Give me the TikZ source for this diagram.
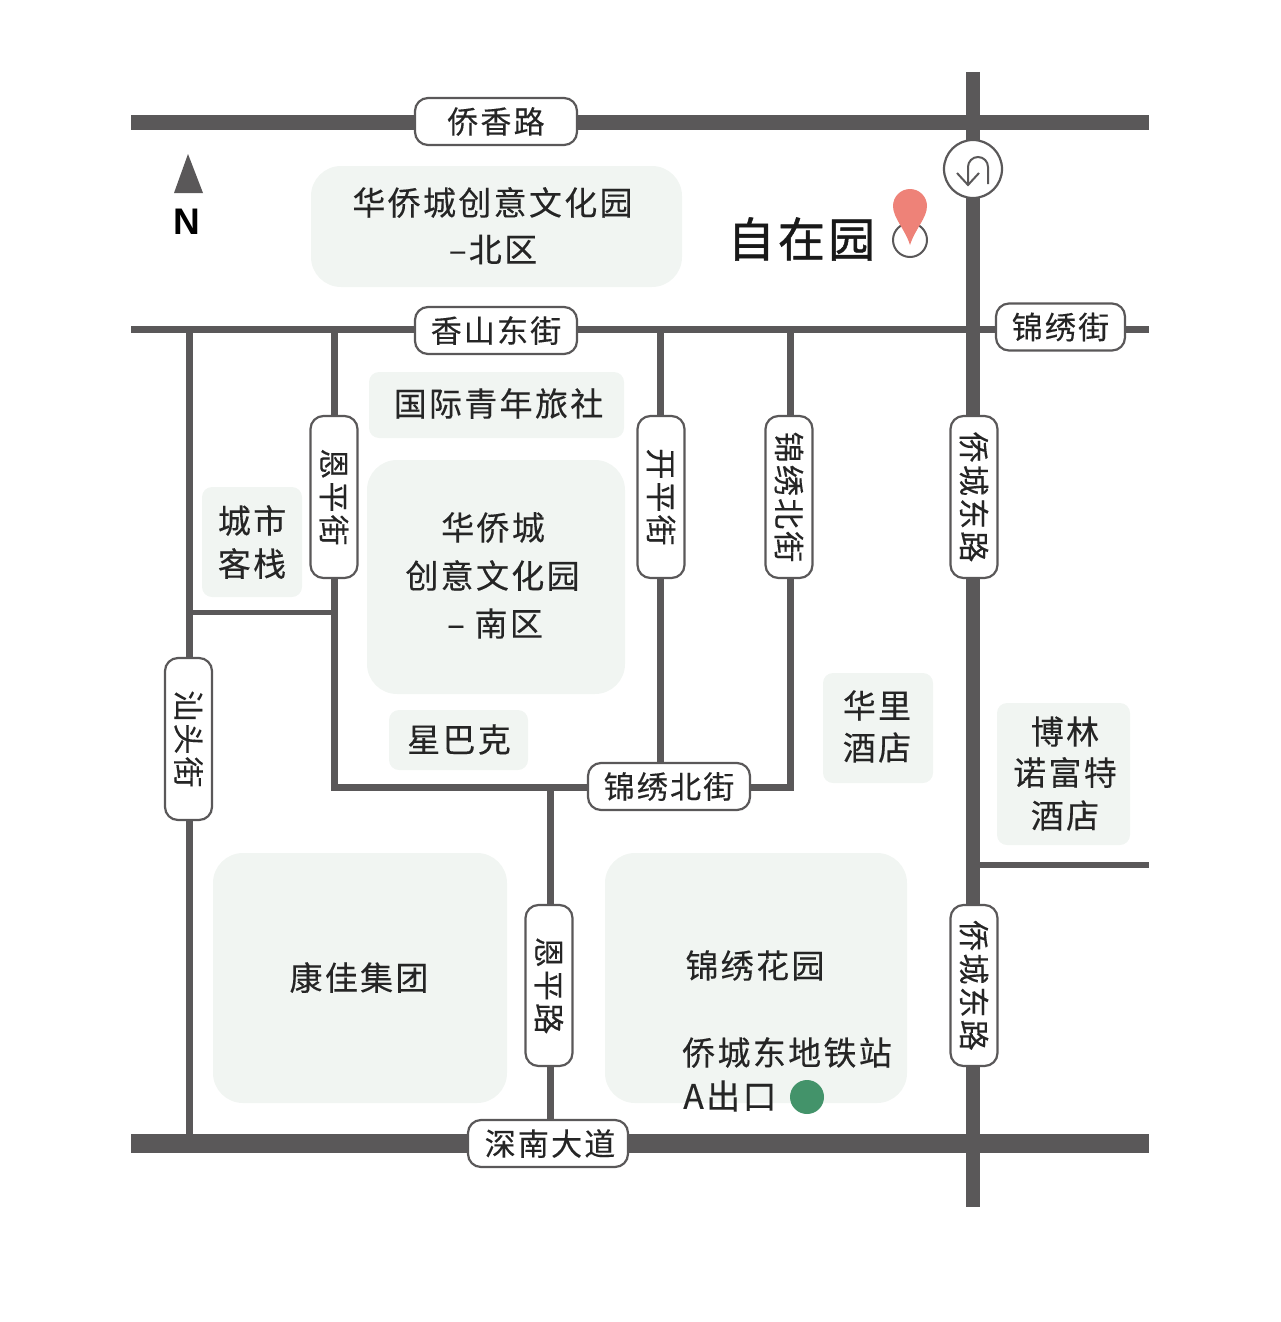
\documentclass[tikz,border=0pt]{standalone}
\usepackage{fontspec}
\setmainfont{Noto Sans CJK SC}
\newfontfamily\cjkfont[LetterSpace=7,FakeBold=0.25]{Noto Sans CJK SC}
\newfontfamily\cjkhome[LetterSpace=7,FakeBold=1]{Noto Sans CJK SC}
\newfontfamily\latinbold{Liberation Sans}[BoldFont={Liberation Sans Bold}]
\newcommand{\mapsize}[1]{\fontsize{#1}{#1}\selectfont}
\definecolor{roadc}{HTML}{5A5859}
\definecolor{blockc}{HTML}{F1F5F2}
\definecolor{pinc}{HTML}{EE8278}
\definecolor{dotc}{HTML}{43936A}
\definecolor{inkc}{HTML}{252525}
\tikzset{
  road/.style={draw=roadc,line cap=butt},
  pillh/.style={draw=roadc,line width=2.2pt,fill=white,rounded corners=13pt,minimum width=#1,minimum height=47pt,inner sep=0pt,text=inkc,font=\cjkfont\mapsize{31}},
  pillv/.style={pillh=#1,rotate=-90},
  blockbig/.style={fill=blockc,rounded corners=30pt},
  blocksmall/.style={fill=blockc,rounded corners=10pt},
  lbl/.style={text=inkc,align=center,inner sep=0pt,font=\cjkfont\mapsize{33}}
}
\begin{document}
\begin{tikzpicture}[x=1pt,y=-1pt]
\useasboundingbox (0,0) rectangle (1280,1322);
% blocks
\fill[blockbig] (311,166) rectangle (682,287);
\fill[blocksmall] (369,372) rectangle (624,438);
\fill[blockbig] (367,460) rectangle (625,694);
\fill[blocksmall] (202,487) rectangle (302,597);
\fill[blocksmall] (389,710) rectangle (528,770);
\fill[blocksmall] (823,673) rectangle (933,783);
\fill[blocksmall] (997,703) rectangle (1130,845);
\fill[blockbig] (213,853) rectangle (507,1103);
\fill[blockbig] (605,853) rectangle (907,1103);
% road end points
\coordinate (qxW) at (131,122); \coordinate (qxE) at (1149,122);
\coordinate (mainN) at (973,72); \coordinate (mainS) at (973,1207);
\coordinate (snW) at (131,1143); \coordinate (snE) at (1149,1143);
\coordinate (xsW) at (131,329); \coordinate (xsE) at (1149,329);
\coordinate (stN) at (189.5,329); \coordinate (stS) at (189.5,1143);
\coordinate (epN) at (334,326); \coordinate (epS) at (334,790);
\coordinate (brW) at (190,612); \coordinate (brE) at (334,612);
\coordinate (jxW) at (331,787); \coordinate (jxE) at (793.5,787);
\coordinate (kpN) at (660,329); \coordinate (kpS) at (660,787);
\coordinate (jbN) at (790,329); \coordinate (jbS) at (790,790);
\coordinate (erN) at (550,787); \coordinate (erS) at (550,1143);
\coordinate (eeW) at (973,865); \coordinate (eeE) at (1149,865);
% roads
\draw[road,line width=15pt] (qxW) -- (qxE);
\draw[road,line width=14pt] (mainN) -- (mainS);
\draw[road,line width=19pt] (snW) -- (snE);
\draw[road,line width=7pt] (xsW) -- (xsE);
\draw[road,line width=7pt] (stN) -- (stS);
\draw[road,line width=7pt] (epN) -- (epS);
\draw[road,line width=5pt] (brW) -- (brE);
\draw[road,line width=7pt] (jxW) -- (jxE);
\draw[road,line width=7pt] (kpN) -- (kpS);
\draw[road,line width=7pt] (jbN) -- (jbS);
\draw[road,line width=7pt] (erN) -- (erS);
\draw[road,line width=6pt] (eeW) -- (eeE);
% road labels
\node[pillh=162pt] (pQx) at (496,121.5) {侨香路};
\node[pillh=162pt] (pXs) at (496,330.5) {香山东街};
\node[pillh=129pt] (pJx) at (1060.5,327) {锦绣街};
\node[pillv=162pt] (pEp) at (334,497) {恩平街};
\node[pillv=162pt] (pKp) at (661,497) {开平街};
\node[pillv=162pt] (pJb) at (789,497) {锦绣北街};
\node[pillv=162pt] (pQc) at (974,497) {侨城东路};
\node[pillv=162pt] (pSt) at (188.5,739) {汕头街};
\node[pillh=162pt] (pJh) at (669,786.5) {锦绣北街};
\node[pillv=161pt] (pEr) at (549,985.5) {恩平路};
\node[pillv=161pt] (pQd) at (974,985.5) {侨城东路};
\node[pillh=160pt] (pSn) at (548,1143.5) {\hspace{4pt}深南大道};
% block labels
\node[lbl] (tNorth1) at (492.5,202.5) {华侨城创意文化园};
\node[lbl] (tNorth2) at (493,249.5) {–北区};
\node[lbl] (tHostel) at (498.5,403.5) {国际青年旅社};
\node[lbl] (tS1) at (493,527.5) {华侨城};
\node[lbl] (tS2) at (492.5,575.5) {创意文化园};
\node[lbl] (tS3) at (495,623.5) {– 南区};
\node[lbl] (tCity1) at (252,520.5) {城市};
\node[lbl] (tCity2) at (252,563.5) {客栈};
\node[lbl] (tStar) at (459,739.5) {星巴克};
\node[lbl] (tHl1) at (877,705.5) {华里};
\node[lbl] (tHl2) at (877,747.5) {酒店};
\node[lbl] (tBl1) at (1065,731.5) {博林};
\node[lbl] (tBl2) at (1065,772.5) {诺富特};
\node[lbl] (tBl3) at (1065,815.5) {酒店};
\node[lbl] (tKj) at (359,977.5) {康佳集团};
\node[lbl] (tJx) at (755,965.5) {锦绣花园};
\node[lbl] (tMetro) at (787,1052.5) {侨城东地铁站};
\node[lbl,anchor=west,font=\cjkfont\mapsize{34}] (tExit) at (683,1096) {A出口};
\node[circle,fill=dotc,minimum size=34pt,inner sep=0pt] (dot) at (807,1097) {};
% home marker
\node[text=black!90,inner sep=0pt,font=\cjkhome\mapsize{47}] (tHome) at (801.5,239) {自在园};
\node[circle,draw=roadc,line width=2pt,minimum size=34pt,inner sep=0pt] (ring) at (910,240) {};
\fill[pinc] (910,245) .. controls (905,229) and (893,218) .. (893,206) arc[start angle=180,end angle=0,x radius=17,y radius=-17] .. controls (927,218) and (915,229) .. (910,245) -- cycle;
% U-turn
\node[circle,draw=roadc,line width=2.2pt,fill=white,minimum size=58pt,inner sep=0pt] (uturn) at (973,169) {};
\coordinate (uA) at (988,184); \coordinate (uB) at (968,185);
\draw[draw=roadc,line width=2pt] (uA) -- (988,167) arc[start angle=0,end angle=-180,x radius=10,y radius=10] -- (uB);
\draw[draw=roadc,line width=2pt] (957,173) -- (uB) -- (979,173);
% north
\fill[roadc] (188,154) -- (174,193) -- (203,193) -- cycle;
\node[text=black,inner sep=0pt,font=\latinbold\bfseries\mapsize{37}] (tN) at (187,222) {N};
\end{tikzpicture}
\end{document}
